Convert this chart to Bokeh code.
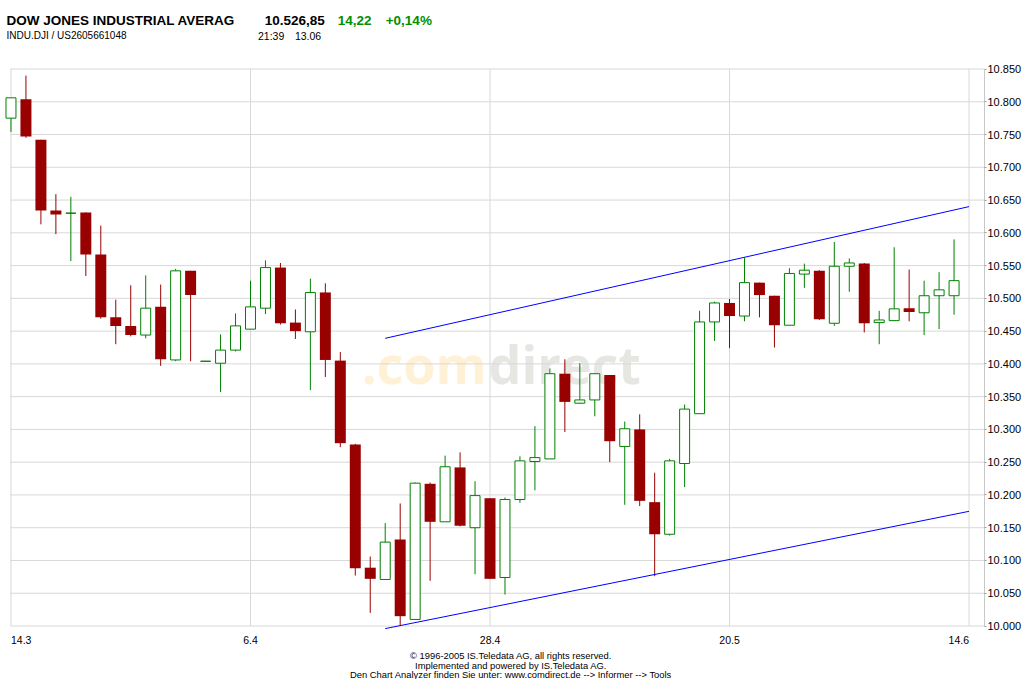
from bokeh.plotting import figure
from bokeh.models import FixedTicker, ColumnDataSource, Range1d
from bokeh.core.properties import value
from bokeh.embed import file_html
from bokeh.resources import INLINE

# ---------------- data ----------------
opens = [10775, 10804, 10742, 10634, 10630, 10631, 10567, 10471, 10458, 10444,
         10487, 10406, 10542, 10404, 10401, 10421, 10453, 10485, 10547, 10463,
         10449, 10509, 10405, 10277, 10089, 10071, 10132, 10010, 10217, 10159,
         10242, 10150, 10195, 10074, 10193, 10251, 10255, 10385, 10340, 10345,
         10383, 10274, 10300, 10189, 10140, 10248, 10324, 10464, 10493, 10473,
         10524, 10504, 10459, 10537, 10542, 10462, 10549, 10553, 10463, 10466,
         10485, 10478, 10504, 10504]
highs = [10806, 10840, 10742, 10659, 10655, 10631, 10611, 10498, 10520, 10535,
         10521, 10545, 10542, 10404, 10445, 10477, 10527, 10558, 10554, 10483,
         10530, 10523, 10418, 10278, 10106, 10157, 10187, 10219, 10219, 10260,
         10265, 10221, 10195, 10196, 10259, 10305, 10393, 10407, 10401, 10385,
         10383, 10312, 10323, 10234, 10255, 10338, 10481, 10495, 10499, 10562,
         10524, 10504, 10546, 10553, 10543, 10586, 10561, 10554, 10481, 10578,
         10544, 10527, 10540, 10590]
lows = [10754, 10745, 10613, 10598, 10557, 10534, 10469, 10430, 10442, 10439,
        10397, 10404, 10404, 10404, 10357, 10419, 10453, 10476, 10460, 10438,
        10360, 10380, 10273, 10077, 10020, 10071, 10000, 10010, 10069, 10159,
        10152, 10079, 10072, 10048, 10188, 10207, 10255, 10296, 10339, 10320,
        10250, 10185, 10183, 10076, 10138, 10212, 10324, 10435, 10424, 10465,
        10471, 10425, 10459, 10516, 10467, 10458, 10510, 10448, 10430, 10466,
        10465, 10444, 10453, 10475]
closes = [10806, 10747, 10634, 10628, 10630, 10567, 10471, 10458, 10444, 10485,
          10407, 10542, 10505, 10404, 10421, 10458, 10487, 10547, 10462, 10450,
          10509, 10406, 10279, 10088, 10072, 10128, 10015, 10218, 10159, 10243,
          10153, 10199, 10072, 10193, 10252, 10257, 10385, 10342, 10345, 10385,
          10282, 10301, 10191, 10140, 10252, 10331, 10464, 10493, 10473, 10524,
          10505, 10459, 10538, 10543, 10468, 10549, 10554, 10462, 10467, 10484,
          10479, 10504, 10513, 10527]

xtick_idx = [0, 16, 32, 48, 64]
xtick_text = ["14.3", "6.4", "28.4", "20.5", "14.6"]

ytick_vals = [10000, 10050, 10100, 10150, 10200, 10250, 10300, 10350, 10400,
              10450, 10500, 10550, 10600, 10650, 10700, 10750, 10800, 10850]
ytick_labels = ["10.000", "10.050", "10.100", "10.150", "10.200", "10.250",
                "10.300", "10.350", "10.400", "10.450", "10.500", "10.550",
                "10.600", "10.650", "10.700", "10.750", "10.800", "10.850"]

trend_idx = [25, 64]
upper_trend = [10439, 10640]
lower_trend = [9996, 10175]

title_text = "DOW JONES INDUSTRIAL AVERAG"
last_price = "10.526,85"
change_abs = "14,22"
change_pct = "+0,14%"
symbol_text = "INDU.DJI / US2605661048"
time_text = "21:39"
date_text = "13.06"
footer_lines = ["\u00a9 1996-2005 IS.Teledata AG, all rights reserved.",
                "Implemented and powered by IS.Teledata AG.",
                "Den Chart Analyzer finden Sie unter: www.comdirect.de --> Informer --> Tools"]

# ---------------- layout / styling ----------------
RED = "#990000"
GREEN = "#008000"
TXT_GREEN = "#009000"
GRID = "#D8D8D8"
FONT = "Liberation Sans"

W, H = 1024, 679
FRAME_R = 986          # right edge of plotting area (px)
X0_PX, PX_X = 10.5, 15.0          # centre of first candle, px per candle
YTOP_PX, YBOT_PX = 68.5, 625.5    # pixel rows of top / bottom price lines
PPX = (ytick_vals[-1] - ytick_vals[0]) / (YBOT_PX - YTOP_PX)


def xd(px):
    return (px - X0_PX) / PX_X


def yd(py):
    return ytick_vals[0] + (YBOT_PX - py) * PPX


p = figure(width=W, height=H, output_backend="svg", toolbar_location=None,
           title=None, x_axis_location=None, y_axis_location="right",
           x_range=Range1d(xd(0), xd(FRAME_R)), y_range=Range1d(yd(H), yd(0)),
           min_border_left=0, min_border_right=W - FRAME_R, min_border_top=0,
           min_border_bottom=0)
p.outline_line_color = None
p.background_fill_color = "white"
p.border_fill_color = "white"
p.xgrid.visible = False
p.ygrid.visible = False

ax = p.yaxis[0]
ax.ticker = FixedTicker(ticks=ytick_vals)
ax.major_label_overrides = dict(zip(ytick_vals, ytick_labels))
ax.bounds = (ytick_vals[0], ytick_vals[-1])
ax.axis_line_color = "#C8C8C8"
ax.major_tick_line_color = "#A0A0A0"
ax.major_tick_out = 2
ax.major_tick_in = 0
ax.minor_tick_line_color = None
ax.major_label_standoff = 1
ax.major_label_text_font = FONT
ax.major_label_text_font_size = "11px"
ax.major_label_text_color = "black"

# watermark (under the grid)
p.text(x=[xd(487)], y=[yd(363)], text=[".com"], text_align="right",
       text_baseline="alphabetic", text_font=value("Open Sans"),
       text_font_style="bold", text_font_size="52px", text_color="#FFF1D6")
p.text(x=[xd(489)], y=[yd(363)], text=["direct"], text_align="left",
       text_baseline="alphabetic", text_font=value("Open Sans"),
       text_font_style="bold", text_font_size="52px", text_color="#E6E6E2")

# grid lines
n_y = len(ytick_vals)
p.segment(x0=[xd(10)] * n_y, x1=[xd(FRAME_R)] * n_y, y0=ytick_vals, y1=ytick_vals,
          line_color=GRID, line_width=1)
n_x = len(xtick_idx)
p.segment(x0=xtick_idx, x1=xtick_idx, y0=[ytick_vals[0]] * n_x,
          y1=[ytick_vals[-1]] * n_x, line_color=GRID, line_width=1)

# candles
n = len(opens)
idx = list(range(n))
up = [c >= o for o, c in zip(opens, closes)]
colors = [GREEN if u else RED for u in up]
src = ColumnDataSource(dict(x=idx, h=highs, l=lows, col=colors))
p.segment(x0="x", y0="l", x1="x", y1="h", line_color="col", line_width=1, source=src)

g_idx = [i for i in idx if up[i]]
r_idx = [i for i in idx if not up[i]]
gsrc = ColumnDataSource(dict(x=g_idx, top=[closes[i] for i in g_idx],
                             bottom=[opens[i] for i in g_idx]))
rsrc = ColumnDataSource(dict(x=r_idx, top=[opens[i] for i in r_idx],
                             bottom=[closes[i] for i in r_idx]))
p.vbar(x="x", top="top", bottom="bottom", width=11 / PX_X, fill_color=RED,
       line_color=None, source=rsrc)
p.vbar(x="x", top="top", bottom="bottom", width=10 / PX_X, fill_color="white",
       line_color=GREEN, line_width=1, source=gsrc)

# trend channel
p.line(trend_idx, upper_trend, line_color="#0000FF", line_width=1)
p.line(trend_idx, lower_trend, line_color="#0000FF", line_width=1)

# x tick labels (first left-aligned, last right-aligned, others centred)
aligns = ["left"] + ["center"] * (n_x - 2) + ["right"]
p.text(x=xtick_idx, y=[yd(639)] * n_x, text=xtick_text, text_align=aligns,
       text_baseline="alphabetic", text_font=value(FONT), text_font_size="10.5px",
       text_color="black")


def txt(px, py, s, size, color="black", bold=False, align="left"):
    p.text(x=[xd(px)], y=[yd(py)], text=[s], text_align=align,
           text_baseline="alphabetic", text_font=value(FONT),
           text_font_size=size, text_font_style="bold" if bold else "normal",
           text_color=color)


# header
txt(6, 20, title_text, "13.5px", bold=True)
txt(325, 20, last_price, "13.5px", bold=True, align="right")
txt(338, 20, change_abs, "13.5px", color=TXT_GREEN, bold=True)
txt(386, 20, change_pct, "13.5px", color=TXT_GREEN, bold=True)
txt(6, 35, symbol_text, "10px")
txt(258, 35, time_text, "10.5px")
txt(295, 35, date_text, "10.5px")

# footer
for k, s in enumerate(footer_lines):
    txt(511.5, 655.0 + 9.5 * k, s, "9.4px", align="center")

open("out.html", "w").write(file_html(p, INLINE))
